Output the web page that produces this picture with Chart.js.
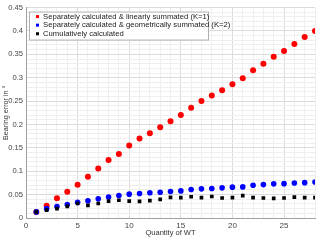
<!DOCTYPE html>
<html>
<head>
<meta charset="utf-8">
<script src="https://cdn.jsdelivr.net/npm/chart.js@4/dist/chart.umd.min.js"></script>
<style>
  html, body { margin: 0; padding: 0; background: #fff; }
  #wrap { width: 320px; height: 240px; position: relative; }
</style>
</head>
<body>
<div id="wrap"><canvas id="chart"></canvas></div>
<script>
// data
const wtCount = [1, 2, 3, 4, 5, 6, 7, 8, 9, 10, 11, 12, 13, 14, 15, 16, 17, 18, 19, 20, 21, 22, 23, 24, 25, 26, 27, 28];
const linearSum = [0.013, 0.026, 0.042, 0.056, 0.071, 0.088, 0.106, 0.124, 0.137, 0.155, 0.170, 0.181, 0.194, 0.207,
    0.220, 0.236, 0.250, 0.262, 0.273, 0.286, 0.299, 0.316, 0.330, 0.345, 0.357, 0.372, 0.387, 0.400];
const geometricSum = [0.013, 0.020, 0.0245, 0.029, 0.0335, 0.037, 0.041, 0.045, 0.048, 0.051, 0.0525, 0.054, 0.055, 0.0567,
    0.058, 0.061, 0.0623, 0.063, 0.0645, 0.066, 0.0665, 0.070, 0.0714, 0.073, 0.0735, 0.075, 0.0756, 0.077];
const cumulative = [0.013, 0.017, 0.020, 0.025, 0.031, 0.027, 0.031, 0.036, 0.038, 0.036, 0.0357, 0.037, 0.040, 0.044,
    0.0435, 0.0455, 0.0435, 0.046, 0.0427, 0.0435, 0.048, 0.0435, 0.0427, 0.042, 0.0427, 0.0448, 0.0435, 0.0435];
const seriesNames = [
    'Separately calculated & linearly summated (K=1)',
    'Separately calculated & geometrically summated (K=2)',
    'Cumulatively calculated'
];

const FONT = 'Liberation Sans, Arial, sans-serif';

function pts(ys) {
    return wtCount.map((x, i) => ({ x: x, y: ys[i] }));
}

// legend box drawn inside the plot, top left
const boxLegend = {
    id: 'boxLegend',
    afterDraw(chart) {
        const ctx = chart.ctx;
        const left = chart.chartArea.left + 3;
        const top = chart.chartArea.top + 4;
        ctx.save();
        ctx.fillStyle = '#fff';
        ctx.strokeStyle = '#b0b0b0';
        ctx.lineWidth = 1;
        ctx.fillRect(left, top, 179, 28);
        ctx.strokeRect(left + 0.5, top + 0.5, 179, 28);
        ctx.font = '7.7px ' + FONT;
        ctx.textBaseline = 'middle';
        chart.data.datasets.forEach((ds, i) => {
            const y = top + 5 + i * 8.6;
            ctx.fillStyle = ds.backgroundColor;
            ctx.fillRect(left + 7, y - 1.5, 3, 3);
            ctx.fillStyle = '#222';
            ctx.fillText(ds.label, left + 14, y);
        });
        ctx.restore();
    }
};

new Chart(document.getElementById('chart'), {
    type: 'scatter',
    data: {
        datasets: [
            { label: seriesNames[0], data: pts(linearSum), backgroundColor: '#ff0000', borderColor: '#ff0000',
              pointRadius: 3, pointBorderWidth: 0, order: 2 },
            { label: seriesNames[1], data: pts(geometricSum), backgroundColor: '#0000ff', borderColor: '#0000ff',
              pointRadius: 2.8, pointBorderWidth: 0, order: 1 },
            { label: seriesNames[2], data: pts(cumulative), backgroundColor: '#000000', borderColor: '#000000',
              pointStyle: 'rect', pointRadius: 2.6, pointBorderWidth: 0, order: 0 }
        ]
    },
    options: {
        responsive: true,
        maintainAspectRatio: false,
        animation: false,
        layout: { padding: { top: -3, right: 5, bottom: 0, left: 0 } },
        plugins: {
            legend: { display: false },
            tooltip: { enabled: false }
        },
        scales: {
            x: {
                type: 'linear',
                min: 0,
                max: 28,
                afterFit: (s) => { s.height = 22; },
                border: { color: '#a0a0a0' },
                grid: {
                    drawTicks: false,
                    color: (c) => c.tick.value % 5 === 0 ? '#dcdcdc' : '#efefef'
                },
                ticks: {
                    stepSize: 1,
                    autoSkip: false,
                    maxRotation: 0,
                    padding: 3,
                    color: '#444',
                    font: { family: FONT, size: 8 },
                    callback: (v) => v % 5 === 0 ? v : ''
                },
                title: {
                    display: true,
                    text: 'Quantity of WT',
                    color: '#333',
                    font: { family: FONT, size: 7.5 },
                    padding: { top: 1, bottom: 3 }
                }
            },
            y: {
                type: 'linear',
                min: 0,
                max: 0.45,
                afterFit: (s) => { s.width = 26; },
                border: { color: '#a0a0a0' },
                grid: {
                    drawTicks: false,
                    color: (c) => Math.round(c.tick.value * 100) % 5 === 0 ? '#dcdcdc' : '#efefef'
                },
                ticks: {
                    stepSize: 0.01,
                    autoSkip: false,
                    padding: 3,
                    color: '#444',
                    font: { family: FONT, size: 7.6 },
                    callback: (v) => Math.round(v * 100) % 5 === 0 ? String(+v.toFixed(2)) : ''
                },
                title: {
                    display: true,
                    text: 'Bearing error in °',
                    color: '#333',
                    font: { family: FONT, size: 7.2 },
                    padding: { top: 2, bottom: 0 }
                }
            }
        }
    },
    plugins: [boxLegend]
});
</script>
</body>
</html>
